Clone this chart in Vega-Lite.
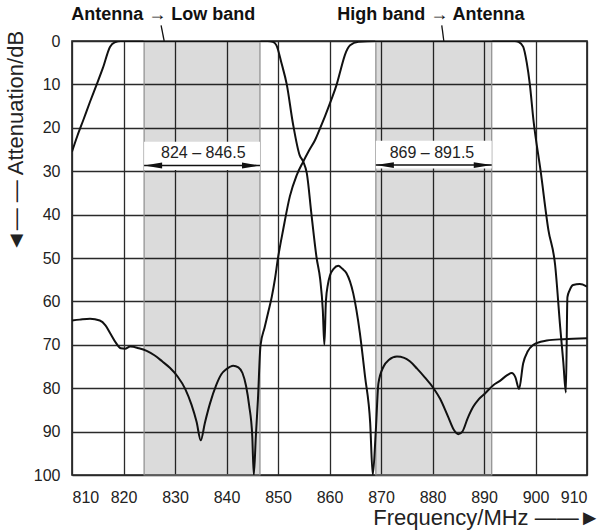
{
  "$schema": "https://vega.github.io/schema/vega-lite/v6.json",
  "width": 515,
  "height": 434,
  "autosize": "none",
  "padding": {"left": 72, "top": 41, "right": 18, "bottom": 55},
  "background": "white",
  "config": {
    "font": "Liberation Sans",
    "view": {"stroke": "#1a1a1a", "strokeWidth": 1.6},
    "axis": {
      "grid": true, "gridColor": "#2a2a2a", "gridWidth": 1.3, "gridOpacity": 1,
      "ticks": false, "domain": false,
      "labelFont": "Liberation Sans", "labelFontSize": 16, "labelColor": "#222",
      "titleFont": "Liberation Sans", "titleFontWeight": "normal", "titleColor": "#222"
    }
  },
  "datasets": {
    "curves": [
      {"series": "Antenna → Low band", "f": 810, "db": 25.5},
      {"series": "Antenna → Low band", "f": 811, "db": 22},
      {"series": "Antenna → Low band", "f": 812.2, "db": 18.2},
      {"series": "Antenna → Low band", "f": 813.5, "db": 14},
      {"series": "Antenna → Low band", "f": 814.8, "db": 10},
      {"series": "Antenna → Low band", "f": 816, "db": 6.2},
      {"series": "Antenna → Low band", "f": 817.4, "db": 1.3},
      {"series": "Antenna → Low band", "f": 818.3, "db": 0.3},
      {"series": "Antenna → Low band", "f": 819.5, "db": 0},
      {"series": "Antenna → Low band", "f": 846.5, "db": 0},
      {"series": "Antenna → Low band", "f": 848, "db": 0},
      {"series": "Antenna → Low band", "f": 849, "db": 0.2},
      {"series": "Antenna → Low band", "f": 849.7, "db": 1},
      {"series": "Antenna → Low band", "f": 850.7, "db": 5.2},
      {"series": "Antenna → Low band", "f": 851.7, "db": 10},
      {"series": "Antenna → Low band", "f": 852.9, "db": 19},
      {"series": "Antenna → Low band", "f": 854.2, "db": 26.3},
      {"series": "Antenna → Low band", "f": 854.9, "db": 27.8},
      {"series": "Antenna → Low band", "f": 855.6, "db": 30.5},
      {"series": "Antenna → Low band", "f": 856.5, "db": 40},
      {"series": "Antenna → Low band", "f": 857.5, "db": 50},
      {"series": "Antenna → Low band", "f": 858.2, "db": 55},
      {"series": "Antenna → Low band", "f": 858.7, "db": 62},
      {"series": "Antenna → Low band", "f": 859.0, "db": 70},
      {"series": "Antenna → Low band", "f": 859.3, "db": 60},
      {"series": "Antenna → Low band", "f": 859.7, "db": 56},
      {"series": "Antenna → Low band", "f": 860.1, "db": 54},
      {"series": "Antenna → Low band", "f": 860.8, "db": 52.5},
      {"series": "Antenna → Low band", "f": 861.7, "db": 51.8},
      {"series": "Antenna → Low band", "f": 862.5, "db": 52.5},
      {"series": "Antenna → Low band", "f": 863.3, "db": 53.5},
      {"series": "Antenna → Low band", "f": 864.6, "db": 58.1},
      {"series": "Antenna → Low band", "f": 865.9, "db": 67.3},
      {"series": "Antenna → Low band", "f": 866.9, "db": 77.3},
      {"series": "Antenna → Low band", "f": 867.9, "db": 88},
      {"series": "Antenna → Low band", "f": 868.4, "db": 100},
      {"series": "Antenna → Low band", "f": 869.0, "db": 89.6},
      {"series": "Antenna → Low band", "f": 869.5, "db": 78.9},
      {"series": "Antenna → Low band", "f": 870.5, "db": 75},
      {"series": "Antenna → Low band", "f": 871.5, "db": 73.5},
      {"series": "Antenna → Low band", "f": 873.1, "db": 72.7},
      {"series": "Antenna → Low band", "f": 874.5, "db": 73},
      {"series": "Antenna → Low band", "f": 875.6, "db": 73.8},
      {"series": "Antenna → Low band", "f": 877, "db": 75.5},
      {"series": "Antenna → Low band", "f": 878.5, "db": 77.5},
      {"series": "Antenna → Low band", "f": 880.2, "db": 80},
      {"series": "Antenna → Low band", "f": 881.5, "db": 82.5},
      {"series": "Antenna → Low band", "f": 883, "db": 86.5},
      {"series": "Antenna → Low band", "f": 884.2, "db": 89.7},
      {"series": "Antenna → Low band", "f": 885, "db": 90.6},
      {"series": "Antenna → Low band", "f": 885.8, "db": 90},
      {"series": "Antenna → Low band", "f": 886.8, "db": 87},
      {"series": "Antenna → Low band", "f": 887.9, "db": 84.3},
      {"series": "Antenna → Low band", "f": 889, "db": 82.5},
      {"series": "Antenna → Low band", "f": 890.2, "db": 81.2},
      {"series": "Antenna → Low band", "f": 891.8, "db": 79.3},
      {"series": "Antenna → Low band", "f": 893.1, "db": 78.3},
      {"series": "Antenna → Low band", "f": 894.5, "db": 77},
      {"series": "Antenna → Low band", "f": 895.4, "db": 76.5},
      {"series": "Antenna → Low band", "f": 896.1, "db": 77.5},
      {"series": "Antenna → Low band", "f": 896.8, "db": 80.2},
      {"series": "Antenna → Low band", "f": 897.6, "db": 74.3},
      {"series": "Antenna → Low band", "f": 898.5, "db": 71.5},
      {"series": "Antenna → Low band", "f": 899.6, "db": 70},
      {"series": "Antenna → Low band", "f": 901, "db": 69.3},
      {"series": "Antenna → Low band", "f": 902.2, "db": 69},
      {"series": "Antenna → Low band", "f": 905.4, "db": 68.7},
      {"series": "Antenna → Low band", "f": 910, "db": 68.5},

      {"series": "High band → Antenna", "f": 810, "db": 64.4},
      {"series": "High band → Antenna", "f": 811.5, "db": 64.2},
      {"series": "High band → Antenna", "f": 813.5, "db": 64.0},
      {"series": "High band → Antenna", "f": 815.4, "db": 64.4},
      {"series": "High band → Antenna", "f": 816.5, "db": 65.5},
      {"series": "High band → Antenna", "f": 817.5, "db": 67.5},
      {"series": "High band → Antenna", "f": 818.5, "db": 69.5},
      {"series": "High band → Antenna", "f": 819.5, "db": 70.8},
      {"series": "High band → Antenna", "f": 820.3, "db": 70.9},
      {"series": "High band → Antenna", "f": 821.3, "db": 70.4},
      {"series": "High band → Antenna", "f": 823, "db": 70.8},
      {"series": "High band → Antenna", "f": 824.5, "db": 71.4},
      {"series": "High band → Antenna", "f": 826, "db": 72.4},
      {"series": "High band → Antenna", "f": 827.5, "db": 73.8},
      {"series": "High band → Antenna", "f": 829, "db": 75.3},
      {"series": "High band → Antenna", "f": 830.5, "db": 77.3},
      {"series": "High band → Antenna", "f": 832, "db": 80.2},
      {"series": "High band → Antenna", "f": 833.2, "db": 83.8},
      {"series": "High band → Antenna", "f": 834.2, "db": 87.8},
      {"series": "High band → Antenna", "f": 835, "db": 92},
      {"series": "High band → Antenna", "f": 835.8, "db": 88},
      {"series": "High band → Antenna", "f": 836.8, "db": 83.5},
      {"series": "High band → Antenna", "f": 838, "db": 79.3},
      {"series": "High band → Antenna", "f": 839, "db": 76.8},
      {"series": "High band → Antenna", "f": 840, "db": 75.6},
      {"series": "High band → Antenna", "f": 841.3, "db": 74.8},
      {"series": "High band → Antenna", "f": 842.3, "db": 75.2},
      {"series": "High band → Antenna", "f": 843.1, "db": 76.5},
      {"series": "High band → Antenna", "f": 843.8, "db": 79.5},
      {"series": "High band → Antenna", "f": 844.4, "db": 84},
      {"series": "High band → Antenna", "f": 845, "db": 91},
      {"series": "High band → Antenna", "f": 845.3, "db": 100},
      {"series": "High band → Antenna", "f": 845.7, "db": 91},
      {"series": "High band → Antenna", "f": 846.1, "db": 82.7},
      {"series": "High band → Antenna", "f": 846.6, "db": 70.2},
      {"series": "High band → Antenna", "f": 847.4, "db": 66},
      {"series": "High band → Antenna", "f": 848.1, "db": 62.5},
      {"series": "High band → Antenna", "f": 848.8, "db": 58.9},
      {"series": "High band → Antenna", "f": 849.4, "db": 54.9},
      {"series": "High band → Antenna", "f": 850, "db": 50},
      {"series": "High band → Antenna", "f": 851, "db": 43.5},
      {"series": "High band → Antenna", "f": 852.3, "db": 35.8},
      {"series": "High band → Antenna", "f": 853.6, "db": 31},
      {"series": "High band → Antenna", "f": 854.9, "db": 27.8},
      {"series": "High band → Antenna", "f": 856, "db": 25.3},
      {"series": "High band → Antenna", "f": 857.2, "db": 22.8},
      {"series": "High band → Antenna", "f": 858.2, "db": 20},
      {"series": "High band → Antenna", "f": 859.1, "db": 17.4},
      {"series": "High band → Antenna", "f": 860.3, "db": 13.7},
      {"series": "High band → Antenna", "f": 861.4, "db": 10},
      {"series": "High band → Antenna", "f": 862.2, "db": 6.5},
      {"series": "High band → Antenna", "f": 863, "db": 3.2},
      {"series": "High band → Antenna", "f": 864, "db": 1},
      {"series": "High band → Antenna", "f": 865.6, "db": 0.2},
      {"series": "High band → Antenna", "f": 869, "db": 0},
      {"series": "High band → Antenna", "f": 896, "db": 0},
      {"series": "High band → Antenna", "f": 896.7, "db": 0.2},
      {"series": "High band → Antenna", "f": 897.6, "db": 1.3},
      {"series": "High band → Antenna", "f": 898.3, "db": 5},
      {"series": "High band → Antenna", "f": 898.9, "db": 10},
      {"series": "High band → Antenna", "f": 899.6, "db": 18.2},
      {"series": "High band → Antenna", "f": 901, "db": 30},
      {"series": "High band → Antenna", "f": 902.5, "db": 43.5},
      {"series": "High band → Antenna", "f": 903.8, "db": 51.5},
      {"series": "High band → Antenna", "f": 904.8, "db": 66},
      {"series": "High band → Antenna", "f": 905.4, "db": 74},
      {"series": "High band → Antenna", "f": 905.9, "db": 81},
      {"series": "High band → Antenna", "f": 906.2, "db": 59},
      {"series": "High band → Antenna", "f": 906.6, "db": 57.5},
      {"series": "High band → Antenna", "f": 907.3, "db": 56.2},
      {"series": "High band → Antenna", "f": 908.6, "db": 56},
      {"series": "High band → Antenna", "f": 910, "db": 56.6}
    ],
    "bands": [
      {"label": "824 – 846.5", "lo": 824, "hi": 846.5, "mid": 835.5, "boxTop": 23.2, "boxBottom": 29.7, "textDb": 25.9, "arrowDb": 28.7},
      {"label": "869 – 891.5", "lo": 869, "hi": 891.5, "mid": 879.9, "boxTop": 23.0, "boxBottom": 29.4, "textDb": 25.9, "arrowDb": 28.6}
    ],
    "tops": [
      {"label": "Antenna → Low band", "f": 827.7, "db": -6, "f1": 827.3, "db1": -3.6, "f2": 827.9, "db2": 0},
      {"label": "High band → Antenna", "f": 879.7, "db": -6, "f1": 881.8, "db1": -3.6, "f2": 882.2, "db2": 0}
    ]
  },
  "encoding": {
    "x": {"type": "quantitative", "scale": {"domain": [810, 910], "nice": false, "zero": false}},
    "y": {"type": "quantitative", "scale": {"domain": [0, 100], "nice": false, "reverse": true}}
  },
  "layer": [
    {
      "data": {"name": "bands"},
      "mark": {"type": "rect", "fill": "black", "fillOpacity": 0.14, "stroke": "#8c8c8c", "strokeWidth": 1.2},
      "encoding": {
        "x": {"field": "lo", "type": "quantitative",
          "axis": {"values": [810, 820, 830, 840, 850, 860, 870, 880, 890, 900, 910], "labelPadding": 14,
            "title": "Frequency/MHz ——►", "titleFontSize": 22, "titleAnchor": "end", "titleAlign": "right",
            "titleX": 528, "titleY": 42, "titleBaseline": "middle"}},
        "x2": {"field": "hi"}
      }
    },
    {
      "data": {"name": "bands"},
      "mark": {"type": "rect", "fill": "white"},
      "encoding": {
        "x": {"field": "lo", "type": "quantitative"},
        "x2": {"field": "hi"},
        "y": {"field": "boxTop", "type": "quantitative",
          "axis": {"values": [0, 10, 20, 30, 40, 50, 60, 70, 80, 90, 100], "labelPadding": 12,
            "title": "◄—  —  Attenuation/dB", "titleFontSize": 22, "titleX": -57, "titleY": 100,
            "titleAlign": "center", "titleBaseline": "middle", "titleAngle": 270}},
        "y2": {"field": "boxBottom"}
      }
    },
    {
      "data": {"name": "bands"},
      "mark": {"type": "text", "fontSize": 16, "color": "#222", "baseline": "middle", "align": "center"},
      "encoding": {
        "x": {"field": "mid", "type": "quantitative"},
        "y": {"field": "textDb", "type": "quantitative"},
        "text": {"field": "label"}
      }
    },
    {
      "data": {"name": "bands"},
      "mark": {"type": "rule", "color": "#111", "strokeWidth": 1.5},
      "encoding": {
        "x": {"field": "lo", "type": "quantitative"},
        "x2": {"field": "hi"},
        "y": {"field": "arrowDb", "type": "quantitative"}
      }
    },
    {
      "data": {"name": "bands"},
      "mark": {"type": "point", "shape": "M0,0L2,-0.33L2,0.33Z", "size": 324, "filled": true, "color": "#111", "opacity": 1, "strokeWidth": 0},
      "encoding": {
        "x": {"field": "lo", "type": "quantitative"},
        "y": {"field": "arrowDb", "type": "quantitative"}
      }
    },
    {
      "data": {"name": "bands"},
      "mark": {"type": "point", "shape": "M0,0L-2,-0.33L-2,0.33Z", "size": 324, "filled": true, "color": "#111", "opacity": 1, "strokeWidth": 0},
      "encoding": {
        "x": {"field": "hi", "type": "quantitative"},
        "y": {"field": "arrowDb", "type": "quantitative"}
      }
    },
    {
      "data": {"name": "curves"},
      "mark": {"type": "line", "color": "#111", "strokeWidth": 2, "interpolate": "monotone", "clip": true},
      "encoding": {
        "x": {"field": "f", "type": "quantitative"},
        "y": {"field": "db", "type": "quantitative"},
        "detail": {"field": "series"}
      }
    },
    {
      "data": {"name": "tops"},
      "mark": {"type": "rule", "color": "#111", "strokeWidth": 1.3},
      "encoding": {
        "x": {"field": "f1", "type": "quantitative"},
        "y": {"field": "db1", "type": "quantitative"},
        "x2": {"field": "f2"},
        "y2": {"field": "db2"}
      }
    },
    {
      "data": {"name": "tops"},
      "mark": {"type": "text", "fontSize": 18, "fontWeight": "bold", "color": "#111", "baseline": "middle", "align": "center"},
      "encoding": {
        "x": {"field": "f", "type": "quantitative"},
        "y": {"field": "db", "type": "quantitative"},
        "text": {"field": "label"}
      }
    }
  ]
}
